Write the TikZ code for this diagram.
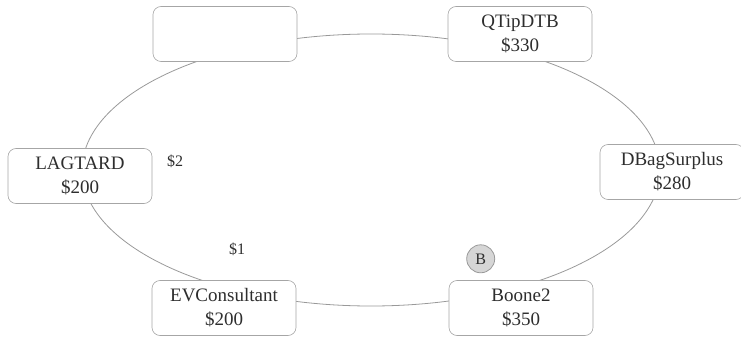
\documentclass[tikz,border=0pt]{standalone}
\usepackage{fontspec}
\setmainfont{Liberation Serif}
\usetikzlibrary{positioning}
\definecolor{rail}{HTML}{999999}
\definecolor{edge}{HTML}{A6A6A6}
\definecolor{ink}{HTML}{2E2E2E}
\definecolor{chip}{HTML}{D6D6D6}
\tikzset{
  seat/.style={rectangle,rounded corners=8pt,draw=edge,semithick,fill=white,align=center,minimum width=144pt,minimum height=55pt,inner sep=2pt,text=ink,font=\fontsize{19}{24}\selectfont},
  dealer/.style={circle,draw=rail,thick,fill=chip,minimum size=28pt,inner sep=0pt,text=ink,font=\fontsize{16}{18}\selectfont},
  blind/.style={text=ink,font=\fontsize{16}{18}\selectfont,inner sep=0pt}
}
\begin{document}
\begin{tikzpicture}[x=1pt,y=-1pt]
    \useasboundingbox (0,0) rectangle (741,339);
    % table
    \draw[rail,line width=0.8pt] (371,170) ellipse [x radius=289,y radius=136];
    % seats
    \node[seat] (empty) at (225,34) {};
    \node[seat] (qtip) at (520,34) {QTipDTB\\\$330};
    \node[seat] (lag) at (80,176) {LAGTARD\\\$200};
    \node[seat] (dbag) at (672,172) {DBagSurplus\\\$280};
    \node[seat] (ev) at (224,308) {EVConsultant\\\$200};
    \node[seat] (boone) at (521,308) {Boone2\\\$350};
    % button and blinds
    \node[dealer,above=7pt of boone.north west,xshift=32pt] (btn) {B};
    \node[blind] (bb) at (175,161) {\$2};
    \node[blind] (sb) at (237,249) {\$1};
  \end{tikzpicture}
\end{document}
